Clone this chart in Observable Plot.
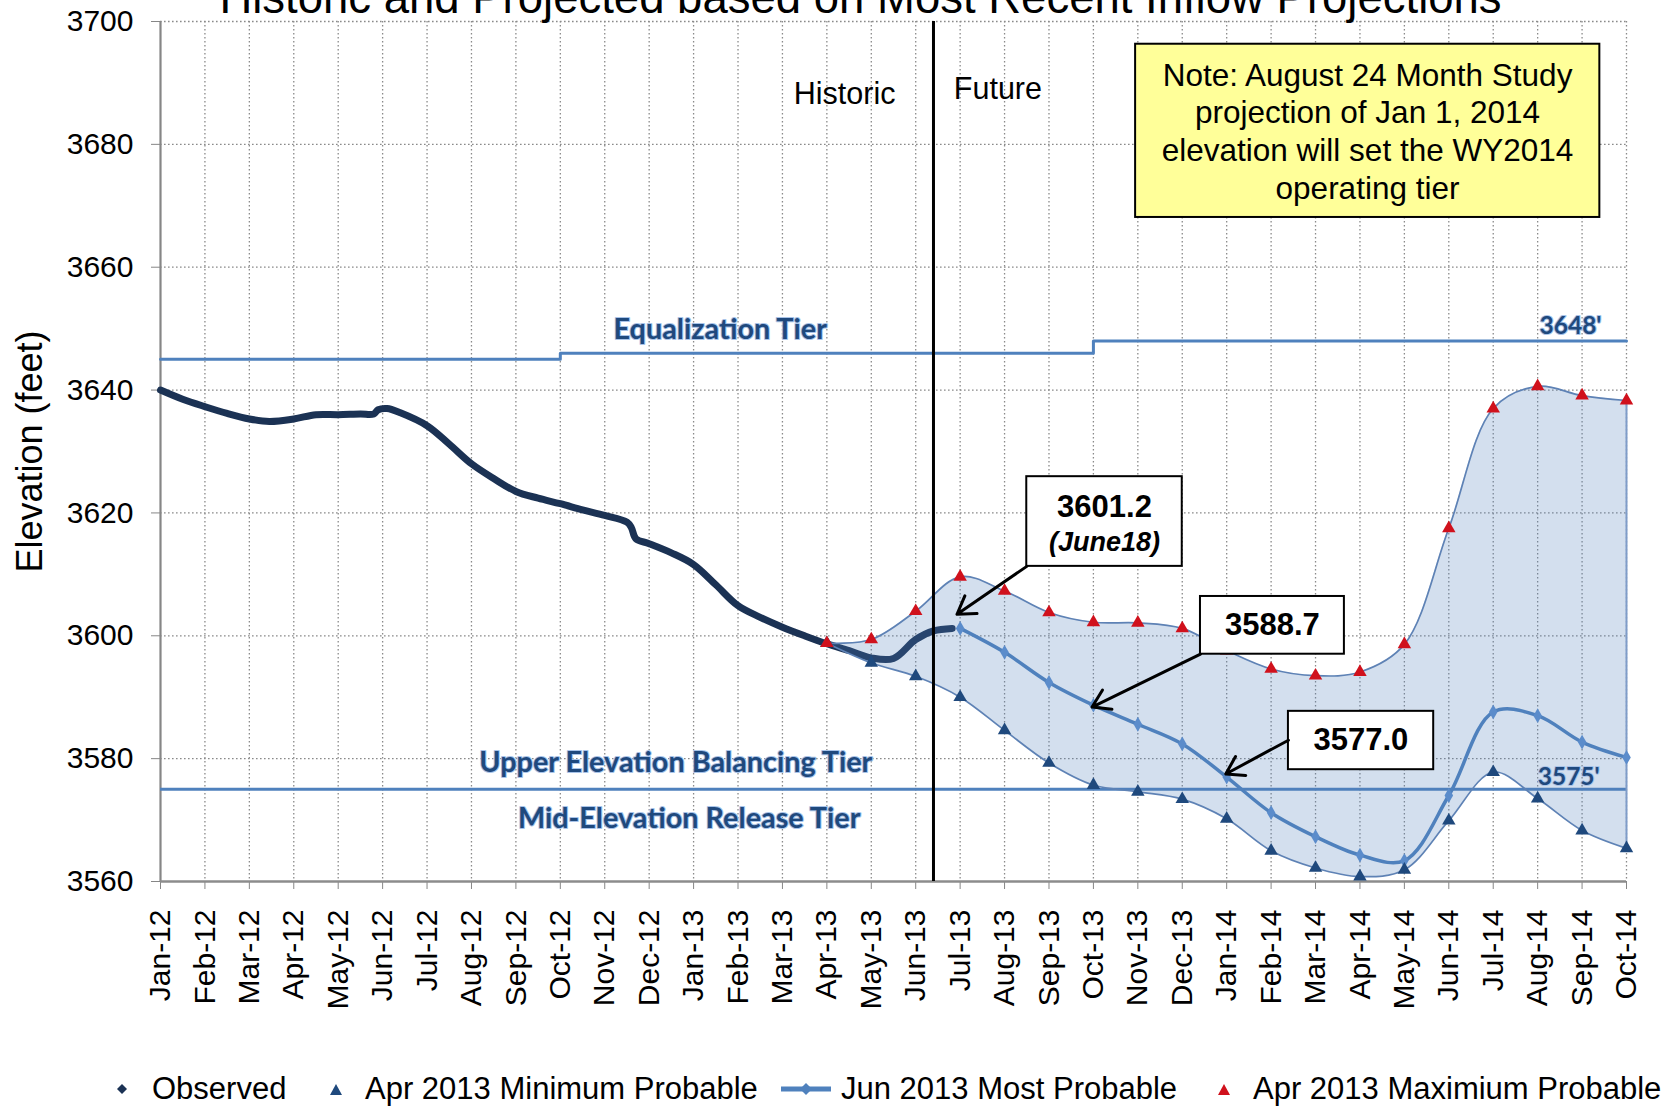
<!DOCTYPE html>
<html>
<head>
<meta charset="utf-8">
<script src="https://cdn.jsdelivr.net/npm/d3@7"></script>
<script src="https://cdn.jsdelivr.net/npm/@observablehq/plot@0.6"></script>
<style>
html, body { margin: 0; padding: 0; background: #fff; overflow: hidden; }
#wrap { position: relative; width: 1669px; height: 1106px; font-family: "Liberation Sans", Arial, sans-serif; }
#legend { position: absolute; left: 0; top: 1066px; width: 1669px; height: 46px; }
.li { position: absolute; top: 0; height: 46px; display: flex; align-items: center; font-size: 31px; color: #000; white-space: nowrap; }
.mk { position: absolute; top: 0; height: 46px; display: flex; align-items: center; }
</style>
</head>
<body>
<div id="wrap"><div id="chart"></div><div id="legend"></div></div>
<script>
// ---------- data ----------
const chartTitle = "Historic and Projected based on Most Recent Inflow Projections";
const yLabel = "Elevation (feet)";
const monthLabels = ["Jan-12","Feb-12","Mar-12","Apr-12","May-12","Jun-12","Jul-12","Aug-12","Sep-12","Oct-12","Nov-12","Dec-12",
  "Jan-13","Feb-13","Mar-13","Apr-13","May-13","Jun-13","Jul-13","Aug-13","Sep-13","Oct-13","Nov-13","Dec-13",
  "Jan-14","Feb-14","Mar-14","Apr-14","May-14","Jun-14","Jul-14","Aug-14","Sep-14","Oct-14"];
const yTicks = [3560, 3580, 3600, 3620, 3640, 3660, 3680, 3700];

// Observed (month index from Jan-12, elevation ft)
const obsMonth = [0, 0.5, 1, 1.5, 2, 2.45, 3, 3.5, 4, 4.5, 4.8, 4.9, 5.1, 5.4, 6, 6.5, 7, 7.5, 8, 8.5, 9, 9.5, 10, 10.5, 10.6, 10.7, 11, 11.5, 12, 12.5, 13, 13.5, 14, 14.5, 15, 15.5, 16, 16.5, 17, 17.4, 17.82];
const obsElev  = [3640.0, 3638.5, 3637.3, 3636.2, 3635.3, 3634.9, 3635.3, 3636.0, 3636.0, 3636.1, 3636.1, 3636.8, 3637.0, 3636.3, 3634.2, 3631.2, 3628.0, 3625.6, 3623.5, 3622.4, 3621.5, 3620.5, 3619.6, 3618.5, 3617.6, 3615.8, 3615.0, 3613.5, 3611.6, 3608.3, 3604.9, 3603.0, 3601.4, 3600.0, 3598.7, 3597.6, 3596.4, 3596.3, 3599.4, 3600.8, 3601.2];

// Apr 2013 min / max probable (Apr-13 .. Oct-14)
const projMonth = [15, 16, 17, 18, 19, 20, 21, 22, 23, 24, 25, 26, 27, 28, 29, 30, 31, 32, 33];
const maxElev = [3598.8, 3599.4, 3604.0, 3609.6, 3607.3, 3603.8, 3602.2, 3602.1, 3601.2, 3597.6, 3594.6, 3593.5, 3594.1, 3598.6, 3617.5, 3637.0, 3640.6, 3639.1, 3638.3];
const minElev = [3598.8, 3595.6, 3593.4, 3590.0, 3584.6, 3579.3, 3575.7, 3574.6, 3573.4, 3570.2, 3565.0, 3562.2, 3560.8, 3561.9, 3569.9, 3577.8, 3573.5, 3568.3, 3565.4];

// Jun 2013 most probable (Jul-13 .. Oct-14)
const mostMonth = [18, 19, 20, 21, 22, 23, 24, 25, 26, 27, 28, 29, 30, 31, 32, 33];
const mostElev = [3601.2, 3597.3, 3592.4, 3588.7, 3585.6, 3582.4, 3577.0, 3571.2, 3567.3, 3564.3, 3563.4, 3574.0, 3587.6, 3587.0, 3582.7, 3580.2];

// Operating tiers
const tierMonth = [0, 9, 21, 33];
const equalElev = [3645, 3646, 3648, 3648];
const midElev = 3575;
const historicEnd = 17.4;

// Annotations (data units: month index, elevation)
const phaseLabels = [
  {text: "Historic", m: 15.4, v: 3688.2},
  {text: "Future", m: 18.85, v: 3688.9}
];
const tierNames = [
  {text: "Equalization Tier", m: 12.6, v: 3649.8},
  {text: "Upper Elevation Balancing Tier", m: 11.6, v: 3579.4},
  {text: "Mid-Elevation Release Tier", m: 11.9, v: 3570.2}
];
const tierValues = [
  {text: "3648'", m: 31.74, v: 3650.4},
  {text: "3575'", m: 31.7, v: 3577.0}
];
const noteBox = [{x1: 21.95, x2: 32.40, y1: 3668.1, y2: 3696.3}];
const noteText = [{text: "Note: August 24 Month Study\nprojection of Jan 1, 2014\nelevation will set the WY2014\noperating tier", m: 27.17, v: 3682.3}];
const calloutBoxes = [
  {x1: 19.50, x2: 23.00, y1: 3611.3, y2: 3625.9},
  {x1: 23.41, x2: 26.65, y1: 3597.0, y2: 3606.4},
  {x1: 25.39, x2: 28.66, y1: 3578.2, y2: 3587.7}
];
const calloutValues = [
  {text: "3601.2", m: 21.25, v: 3620.9},
  {text: "3588.7", m: 25.03, v: 3601.7},
  {text: "3577.0", m: 27.02, v: 3583.0}
];
const calloutDates = [{text: "(June18)", m: 21.25, v: 3615.2}];
const calloutArrows = [
  {x1: 19.50, y1: 3611.3, x2: 17.93, y2: 3603.5},
  {x1: 23.41, y1: 3597.0, x2: 20.97, y2: 3588.4},
  {x1: 25.39, y1: 3583.0, x2: 23.98, y2: 3577.5}
];

// ---------- build ----------
const obs = obsMonth.map((m, i) => ({m, v: obsElev[i]}));
const band = projMonth.map((m, i) => ({m, lo: minElev[i], hi: maxElev[i]}));
const most = mostMonth.map((m, i) => ({m, v: mostElev[i]}));
const eq = tierMonth.map((m, i) => ({m, v: equalElev[i]}));

const TIER = "#4F81BD";
const tierStyle = {x: "m", y: "v", text: "text", fontFamily: "Lato, 'Open Sans', sans-serif", fontWeight: "bold", fill: "#1F497D", stroke: "#A8C3E8", strokeWidth: 2};

const chart = Plot.plot({
  width: 1669, height: 1060,
  marginLeft: 160, marginRight: 43, marginTop: 21, marginBottom: 179,
  style: {fontFamily: "'Liberation Sans', Arial, sans-serif", background: "white", color: "#000"},
  x: {domain: [0, 33]},
  y: {domain: [3560, 3700]},
  marks: [
    Plot.gridX(d3.range(1, 34), {stroke: "#8a8a8a", strokeOpacity: 1, strokeDasharray: "1.6,2.4", strokeWidth: 1.3}),
    Plot.gridY(yTicks.filter(v => v > 3560), {stroke: "#8a8a8a", strokeOpacity: 1, strokeDasharray: "1.6,2.4", strokeWidth: 1.3}),
    Plot.axisY(yTicks, {tickFormat: d => String(d), fontSize: 30, tickSize: 9, tickPadding: 18, stroke: "#868686", fill: "#000", label: null}),
    Plot.axisX(d3.range(34), {tickFormat: i => monthLabels[i], tickRotate: -90, fontSize: 30, tickSize: 8, tickPadding: 20, stroke: "#868686", fill: "#000", label: null}),
    Plot.ruleX([0], {stroke: "#868686", strokeWidth: 2.2}),
    Plot.ruleY([3560], {stroke: "#8c8c8c", strokeWidth: 2.6}),
    Plot.line(eq, {x: "m", y: "v", curve: "step-after", stroke: TIER, strokeWidth: 3}),
    Plot.ruleY([midElev], {x1: 0, x2: 33, stroke: TIER, strokeWidth: 3}),
    Plot.line(obs, {x: "m", y: "v", curve: "catmull-rom", stroke: "#1B3254", strokeWidth: 7, strokeLinecap: "round", strokeLinejoin: "round"}),
    Plot.areaY(band, {x: "m", y1: "lo", y2: "hi", curve: "catmull-rom", fill: TIER, fillOpacity: 0.25}),
    Plot.line(band, {x: "m", y: "hi", curve: "catmull-rom", stroke: "#5E82B5", strokeWidth: 1.7}),
    Plot.line(band, {x: "m", y: "lo", curve: "catmull-rom", stroke: "#5E82B5", strokeWidth: 1.7}),
    Plot.ruleX([projMonth[projMonth.length - 1]], {y1: minElev[minElev.length - 1], y2: maxElev[maxElev.length - 1], stroke: "#7F9CC8", strokeWidth: 2}),
    Plot.line(most, {x: "m", y: "v", curve: "catmull-rom", stroke: TIER, strokeWidth: 3.5}),
    Plot.dot(most, {x: "m", y: "v", symbol: "diamond", r: 4.5, fill: "#5B8CCB"}),
    Plot.dot(band, {x: "m", y: "lo", symbol: "triangle", r: 5, fill: "#1F497D"}),
    Plot.dot(band, {x: "m", y: "hi", symbol: "triangle", r: 5, fill: "#D0111C"}),
    Plot.ruleX([historicEnd], {y1: 3560, y2: 3700, stroke: "#000", strokeWidth: 3}),
    Plot.text(tierNames, {...tierStyle, fontSize: 28.8}),
    Plot.text(tierValues, {...tierStyle, fontSize: 24.5}),
    Plot.text(phaseLabels, {x: "m", y: "v", text: "text", fontSize: 30.5, fill: "#000"}),
    Plot.rect(noteBox, {x1: "x1", x2: "x2", y1: "y1", y2: "y2", fill: "#FFFF99", stroke: "#000", strokeWidth: 2}),
    Plot.text(noteText, {x: "m", y: "v", text: "text", fontSize: 31.5, lineHeight: 1.2, fill: "#000"}),
    Plot.rect(calloutBoxes, {x1: "x1", x2: "x2", y1: "y1", y2: "y2", fill: "#fff", stroke: "#000", strokeWidth: 2}),
    Plot.text(calloutValues, {x: "m", y: "v", text: "text", fontSize: 31, fontWeight: "bold", fill: "#000"}),
    Plot.text(calloutDates, {x: "m", y: "v", text: "text", fontSize: 27, fontWeight: "bold", fontStyle: "italic", fill: "#000"}),
    Plot.arrow(calloutArrows, {x1: "x1", y1: "y1", x2: "x2", y2: "y2", stroke: "#000", strokeWidth: 3, headLength: 10, headAngle: 65}),
    Plot.text([chartTitle], {frameAnchor: "top", dx: -33, dy: -9, lineAnchor: "bottom", fontSize: 45.5, fill: "#000"}),
    Plot.text([yLabel], {frameAnchor: "left", textAnchor: "middle", dx: -130, rotate: -90, fontSize: 36, fill: "#000"})
  ]
});
document.getElementById("chart").appendChild(chart);

// ---------- legend ----------
const legendItems = [
  {label: "Observed", marker: "diamondSmall", mx: 122, tx: 152},
  {label: "Apr 2013 Minimum Probable", marker: "triMin", mx: 336, tx: 365},
  {label: "Jun 2013 Most Probable", marker: "lineDiamond", mx: 806, tx: 841},
  {label: "Apr 2013 Maximium Probable", marker: "triMax", mx: 1224, tx: 1253}
];
const markerSvg = {
  diamondSmall: {w: 10, svg: '<svg width="10" height="10"><path d="M5,0L10,5L5,10L0,5Z" fill="#1B3254"/></svg>'},
  triMin: {w: 12, svg: '<svg width="12" height="11"><path d="M6,0L12,11L0,11Z" fill="#1F497D"/></svg>'},
  triMax: {w: 12, svg: '<svg width="12" height="11"><path d="M6,0L12,11L0,11Z" fill="#D0111C"/></svg>'},
  lineDiamond: {w: 50, svg: '<svg width="50" height="12"><line x1="0" y1="6" x2="50" y2="6" stroke="#4F81BD" stroke-width="5"/><path d="M25,0L31,6L25,12L19,6Z" fill="#4F81BD"/></svg>'}
};
const legend = document.getElementById("legend");
legendItems.forEach(it => {
  const m = document.createElement("div");
  m.className = "mk";
  m.style.left = (it.mx - markerSvg[it.marker].w / 2) + "px";
  m.innerHTML = markerSvg[it.marker].svg;
  legend.appendChild(m);
  const t = document.createElement("div");
  t.className = "li";
  t.style.left = it.tx + "px";
  t.textContent = it.label;
  legend.appendChild(t);
});
</script>
</body>
</html>
